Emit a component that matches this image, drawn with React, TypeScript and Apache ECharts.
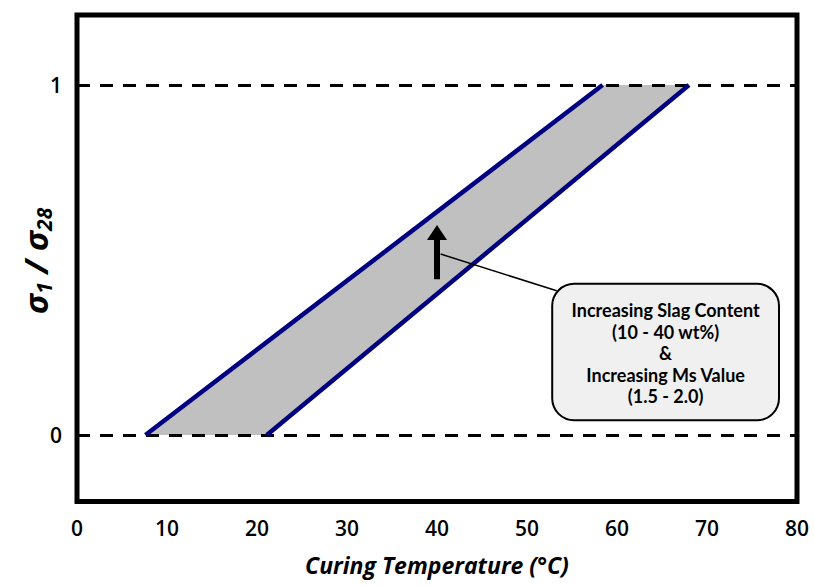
import React, { useEffect, useRef } from "react";
import * as echarts from "echarts";

const xTicks = [0, 10, 20, 30, 40, 50, 60, 70, 80];
const yTickValues = [0, 1];
const leftEdge = [[7.6, 0], [58.4, 1]];
const rightEdge = [[21.1, 0], [68.0, 1]];
const bandPolygon = [[7.6, 0], [58.4, 1], [68.0, 1], [21.1, 0]];
const refLines = [0, 1];
const arrowX = 40;
const arrowFrom = 0.445;
const arrowTo = 0.6;
const leaderFrom = [40.4, 0.517];
const leaderTo = [53.3, 0.412];
const noteBox = { x0: 52.8, y0: 0.432, x1: 78.0, y1: 0.042 };
const noteLines = [
  "Increasing Slag Content",
  "(10 - 40 wt%)",
  "&",
  "Increasing Ms Value",
  "(1.5 - 2.0)",
];

const FONT = "'Open Sans', Lato, sans-serif";
const NOTE_FONT = "Lato, 'Open Sans', sans-serif";

export default function App() {
  const ref = useRef<HTMLDivElement>(null);
  useEffect(() => {
    document.body.style.margin = "0";
    if (!ref.current) return;
    const chart = echarts.init(ref.current, undefined, { renderer: "svg" });
    chart.setOption({
      animation: false,
      backgroundColor: "#fff",
      grid: {
        left: 77,
        right: 17,
        top: 15,
        bottom: 84.5,
        show: true,
        borderColor: "#000",
        borderWidth: 5,
        backgroundColor: "transparent",
      },
      xAxis: {
        type: "value",
        min: 0,
        max: 80,
        interval: 10,
        axisLine: { show: false },
        axisTick: { show: false },
        splitLine: { show: false },
        axisLabel: {
          color: "#000",
          fontSize: 21,
          fontWeight: 600,
          fontFamily: FONT,
          margin: 16,
          formatter: (v: number) => (xTicks.includes(v) ? String(v) : ""),
        },
        name: "Curing Temperature (°C)",
        nameLocation: "middle",
        nameGap: 52,
        nameTextStyle: {
          color: "#000",
          fontSize: 23,
          fontWeight: "bold",
          fontStyle: "italic",
          fontFamily: FONT,
        },
      },
      yAxis: {
        type: "value",
        min: -0.19,
        max: 1.2,
        axisLine: { show: false },
        axisTick: { show: false },
        splitLine: { show: false },
        axisLabel: {
          color: "#000",
          fontSize: 21,
          fontWeight: 600,
          fontFamily: FONT,
          margin: 15,
          customValues: yTickValues,
        },
      },
      series: [
        {
          type: "custom",
          z: 1,
          renderItem: (params: any, api: any) => {
            const pts = bandPolygon.map((p) => api.coord(p));
            return {
              type: "polygon",
              shape: { points: pts },
              style: { fill: "#C0C0C0", stroke: "none" },
            };
          },
          data: [0],
          markLine: {
            silent: true,
            symbol: ["none", "none"],
            label: { show: false },
            lineStyle: { color: "#000", width: 3, type: [13, 10] },
            data: refLines.map((v) => ({ yAxis: v })),
            z: 3,
          },
        },
        {
          type: "line",
          data: leftEdge,
          symbol: "none",
          z: 5,
          lineStyle: { color: "#000080", width: 4.5 },
        },
        {
          type: "line",
          data: rightEdge,
          symbol: "none",
          z: 5,
          lineStyle: { color: "#000080", width: 4.5 },
        },
      ],
    });

    const px = (p: number[]) => chart.convertToPixel({ gridIndex: 0 }, p) as number[];
    const a0 = px([arrowX, arrowFrom]);
    const a1 = px([arrowX, arrowTo]);
    const lf = px(leaderFrom);
    const lt = px(leaderTo);
    const b0 = px([noteBox.x0, noteBox.y0]);
    const b1 = px([noteBox.x1, noteBox.y1]);
    const headH = 15;
    const headW = 10;

    chart.setOption({
      graphic: [
        {
          type: "line",
          shape: { x1: lf[0], y1: lf[1], x2: lt[0], y2: lt[1] },
          style: { stroke: "#000", lineWidth: 1.5 },
          z: 10,
        },
        {
          type: "rect",
          shape: { x: a0[0] - 3, y: a1[1] + headH - 1, width: 6, height: a0[1] - a1[1] - headH + 1 },
          style: { fill: "#000" },
          z: 10,
        },
        {
          type: "polygon",
          shape: {
            points: [
              [a1[0], a1[1]],
              [a1[0] + headW, a1[1] + headH],
              [a1[0] - headW, a1[1] + headH],
            ],
          },
          style: { fill: "#000" },
          z: 10,
        },
        {
          type: "rect",
          shape: { x: b0[0], y: b0[1], width: b1[0] - b0[0], height: b1[1] - b0[1], r: 22 },
          style: { fill: "#F0F0F0", stroke: "#000", lineWidth: 2 },
          z: 10,
        },
        {
          type: "text",
          x: (b0[0] + b1[0]) / 2,
          y: (b0[1] + b1[1]) / 2 + 1,
          z: 11,
          style: {
            text: noteLines.join("\n"),
            align: "center",
            verticalAlign: "middle",
            fill: "#000",
            font: `bold 18px ${NOTE_FONT}`,
            lineHeight: 21.5,
          },
        },
        {
          type: "text",
          x: 35,
          y: 261,
          rotation: Math.PI / 2,
          z: 11,
          style: {
            text: "{m|σ}{s|1}{m| / σ}{s|28}",
            align: "center",
            verticalAlign: "middle",
            fill: "#000",
            rich: {
              m: {
                fontSize: 33,
                fontWeight: "bold",
                fontStyle: "italic",
                fontFamily: FONT,
                fill: "#000",
                lineHeight: 38,
                verticalAlign: "middle",
              },
              s: {
                fontSize: 21,
                fontWeight: "bold",
                fontStyle: "italic",
                fontFamily: FONT,
                fill: "#000",
                lineHeight: 38,
                verticalAlign: "bottom",
              },
            },
          },
        },
      ],
    });

    return () => chart.dispose();
  }, []);
  return <div ref={ref} style={{ width: 814, height: 586 }} />;
}
